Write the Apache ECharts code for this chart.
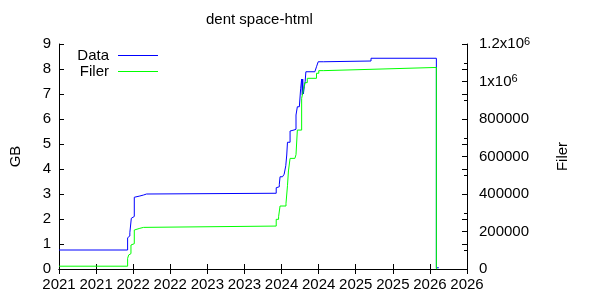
<!DOCTYPE html>
<html>
<head>
<meta charset="utf-8">
<script src="https://cdn.jsdelivr.net/npm/echarts@6/dist/echarts.min.js"></script>
<style>html,body{margin:0;padding:0;background:#fff}#c{width:600px;height:300px}</style>
</head>
<body>
<div id="c"></div>
<script>
const titleText = 'dent space-html';
const dataYears = [2021.0, 2021.925, 2021.935, 2021.955, 2021.97, 2021.975, 2021.99, 2022.015, 2022.04, 2022.09, 2022.14, 2022.18,
  2023.928, 2023.95, 2023.97, 2023.98, 2024.013, 2024.035, 2024.057, 2024.07,
  2024.08, 2024.115, 2024.14, 2024.168, 2024.195, 2024.213, 2024.24, 2024.258,
  2024.271, 2024.28, 2024.285, 2024.294, 2024.307, 2024.318, 2024.328,
  2024.449, 2024.471, 2024.494, 2024.569, 2025.206, 2026.087, 2026.12];
const dataGB = [0.76, 1.25, 1.32, 1.45, 1.52, 2.03, 2.1, 2.87, 2.92, 2.96, 3.0, 3.03,
  3.25, 3.29, 3.39, 3.69, 3.72, 3.79, 4.13, 4.56,
  5.07, 5.52, 5.56, 5.59, 6.16, 6.49, 6.53, 7.23,
  7.6, 6.96, 7.6, 7.0, 7.29, 7.49, 7.89,
  7.96, 8.09, 8.29, 8.32, 8.43, 0.05, 0.05];
const filerYears = [2021.0, 2021.925, 2021.94, 2021.955, 2021.97, 2021.99, 2022.015, 2022.04, 2022.09, 2022.14,
  2023.928, 2023.96, 2023.98, 2024.06, 2024.08, 2024.093, 2024.115, 2024.18, 2024.195, 2024.213,
  2024.271, 2024.294, 2024.315, 2024.347, 2024.471, 2024.502, 2024.569, 2025.206, 2026.087, 2026.1];
const filerCount = [15000, 57000, 75000, 82000, 128000, 135000, 208000, 217000, 222000, 229000,
  265000, 279000, 336000, 350000, 444000, 523000, 590000, 596000, 610000, 741000,
  910000, 955000, 994000, 1017000, 1044000, 1058000, 1065000, 1075000, 0, 0];
const seriesNames = ['Data', 'Filer'];
const seriesColors = ['#0000ff', '#00ff00'];

const FONT = 'Liberation Sans';
const FS = 15;
const chart = echarts.init(document.getElementById('c'), null, {renderer: 'canvas'});
const zip = (a, b) => a.map((v, i) => [v, b[i]]);
const axisLine = {show: true, lineStyle: {color: '#000', width: 1}};
const xBase = {type: 'value', min: 2021, max: 2026.5, interval: 0.5, splitLine: {show: false}, axisLine,
  axisTick: {show: true, inside: true, length: 5, lineStyle: {color: '#000'}}};
const legendBase = {right: 442, padding: 0, align: 'right', orient: 'vertical',
  icon: 'rect', itemWidth: 40, itemHeight: 1,
  textStyle: {fontFamily: FONT, fontSize: FS, color: '#000', padding: [0, 4, 0, 0]}};
const legendItem = (i) => ({name: seriesNames[i],
  itemStyle: {color: seriesColors[i], borderWidth: 0, borderColor: seriesColors[i], opacity: 1},
  lineStyle: {color: seriesColors[i], width: 1, opacity: 1}});
chart.setOption({
  animation: false,
  backgroundColor: '#fff',
  title: {text: titleText, left: 206, top: 12, padding: 0,
    textStyle: {fontFamily: FONT, fontSize: FS, fontWeight: 'normal', color: '#000'}},
  legend: [
    Object.assign({}, legendBase, {top: 48, data: [legendItem(0)],
      itemStyle: {color: seriesColors[0]}, lineStyle: {color: seriesColors[0], width: 1}}),
    Object.assign({}, legendBase, {top: 64, data: [legendItem(1)],
      itemStyle: {color: seriesColors[1]}, lineStyle: {color: seriesColors[1], width: 1}})
  ],
  grid: {left: 55, right: 133, top: 44, bottom: 31, containLabel: false},
  xAxis: [
    Object.assign({}, xBase, {position: 'bottom',
      axisLabel: {show: true, margin: 8, fontFamily: FONT, fontSize: FS, color: '#000',
        formatter: v => String(Math.floor(v + 1e-9))}}),
    Object.assign({}, xBase, {position: 'top', axisLabel: {show: false}})
  ],
  yAxis: [
    {type: 'value', position: 'left', min: 0, max: 9, interval: 1,
      name: 'GB', nameLocation: 'middle', nameGap: 36, nameRotate: 90,
      nameTextStyle: {fontFamily: FONT, fontSize: FS, color: '#000'},
      splitLine: {show: false}, axisLine,
      axisTick: {show: true, inside: true, length: 5, lineStyle: {color: '#000'}},
      axisLabel: {margin: 8, fontFamily: FONT, fontSize: FS, color: '#000'}},
    {type: 'value', position: 'right', min: 0, max: 1200000, interval: 200000,
      name: 'Filer', nameLocation: 'middle', nameGap: 88, nameRotate: 90,
      nameTextStyle: {fontFamily: FONT, fontSize: FS, color: '#000'},
      splitLine: {show: false}, axisLine,
      axisTick: {show: true, inside: true, length: 5, lineStyle: {color: '#000'}},
      minorTick: {show: true, splitNumber: 2, length: 3, lineStyle: {color: '#000'}},
      axisLabel: {margin: 12, fontFamily: FONT, fontSize: FS, color: '#000',
        formatter: v => v >= 1000000 ? '{m|' + (v / 1000000) + 'x10}{s|6}' : String(v),
        rich: {m: {fontFamily: FONT, fontSize: FS, color: '#000', lineHeight: 16},
               s: {fontFamily: FONT, fontSize: 11, color: '#000', verticalAlign: 'top', lineHeight: 11}}}},
    {type: 'value', position: 'right', min: 0, max: 9, interval: 1,
      splitLine: {show: false}, axisLine: {show: false},
      axisTick: {show: true, inside: true, length: 5, lineStyle: {color: '#000'}},
      axisLabel: {show: false}}
  ],
  series: [
    {name: seriesNames[0], type: 'line', step: 'end', yAxisIndex: 0, xAxisIndex: 0,
      data: zip(dataYears, dataGB), showSymbol: false, symbol: 'none',
      color: seriesColors[0], itemStyle: {color: seriesColors[0]}, lineStyle: {width: 1, color: seriesColors[0]}},
    {name: seriesNames[1], type: 'line', step: 'end', yAxisIndex: 1, xAxisIndex: 0,
      data: zip(filerYears, filerCount), showSymbol: false, symbol: 'none',
      color: seriesColors[1], itemStyle: {color: seriesColors[1]}, lineStyle: {width: 1, color: seriesColors[1]}}
  ]
});
</script>
</body>
</html>
